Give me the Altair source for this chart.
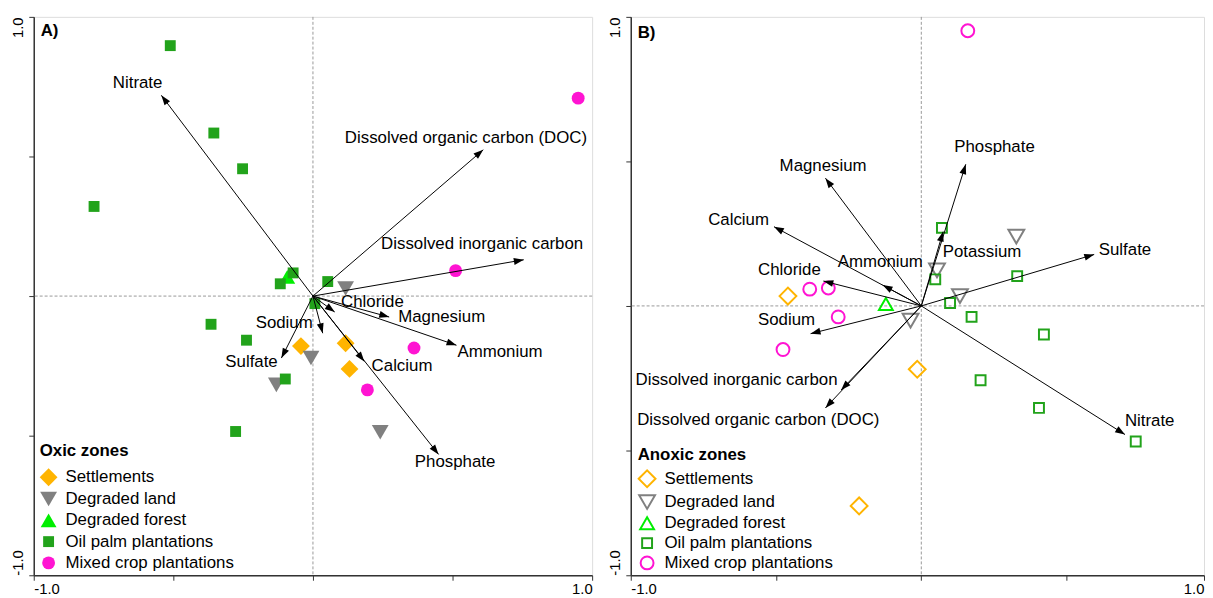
import altair as alt
import pandas as pd

FONT = "Liberation Sans"

# ---------------- shared categories ----------------
groups = ["Settlements", "Degraded land", "Degraded forest",
          "Oil palm plantations", "Mixed crop plantations"]
group_colors = ["#ffb400", "#808080", "#00ee00", "#22a31b", "#ff14d2"]
group_shapes = ["diamond", "triangle-down", "triangle-up", "square", "circle"]

# ---------------- Panel A: oxic zones ----------------
oxic_group = (["Degraded forest"]
              + ["Settlements"] * 3
              + ["Degraded land"] * 4
              + ["Oil palm plantations"] * 12
              + ["Mixed crop plantations"] * 4)
oxic_x = [-0.092,
          -0.043, 0.117, 0.131,
          0.117, -0.007, -0.131, 0.241,
          -0.511, -0.355, -0.252, -0.784, -0.071, -0.117, 0.053, 0.007,
          -0.365, -0.238, -0.099, -0.277,
          0.950, 0.511, 0.362, 0.195]
oxic_y = [0.069,
          -0.179, -0.169, -0.261,
          0.027, -0.222, -0.318, -0.488,
          0.897, 0.584, 0.456, 0.321, 0.083, 0.044, 0.052, -0.027,
          -0.101, -0.158, -0.297, -0.485,
          0.709, 0.091, -0.186, -0.336]

oxic_vars = ["Nitrate", "Dissolved organic carbon (DOC)", "Dissolved inorganic carbon",
             "Chloride", "Magnesium", "Ammonium", "Calcium", "Phosphate",
             "Sodium", "Sulfate"]
oxic_vx = [-0.543, 0.610, 0.755, 0.078, 0.273, 0.514, 0.184, 0.450, 0.035, -0.113]
oxic_vy = [0.719, 0.524, 0.130, -0.057, -0.075, -0.176, -0.234, -0.567, -0.133, -0.222]
oxic_lx = [-0.628, 0.548, 0.606, 0.213, 0.461, 0.670, 0.319, 0.509, -0.103, -0.220]
oxic_ly = [0.762, 0.567, 0.186, -0.023, -0.076, -0.200, -0.250, -0.595, -0.098, -0.236]

# ---------------- Panel B: anoxic zones ----------------
anoxic_group = (["Settlements"] * 3
                + ["Degraded land"] * 4
                + ["Degraded forest"]
                + ["Oil palm plantations"] * 9
                + ["Mixed crop plantations"] * 5)
anoxic_x = [-0.459, -0.014, -0.214,
            0.327, 0.054, 0.133, -0.037,
            -0.122,
            0.071, 0.048, 0.330, 0.099, 0.173, 0.422, 0.204, 0.405, 0.738,
            0.160, -0.384, -0.320, -0.286, -0.476]
anoxic_y = [0.034, -0.219, -0.692,
            0.240, 0.123, 0.034, -0.051,
            0.007,
            0.270, 0.092, 0.103, 0.010, -0.038, -0.099, -0.257, -0.353, -0.469,
            0.952, 0.058, 0.062, -0.038, -0.151]

anoxic_vars = ["Phosphate", "Potassium", "Sulfate", "Nitrate", "Magnesium", "Calcium",
               "Ammonium", "Chloride", "Sodium", "Dissolved inorganic carbon",
               "Dissolved organic carbon (DOC)"]
anoxic_vx = [0.153, 0.075, 0.595, 0.701, -0.330, -0.507, -0.133, -0.337, -0.381, -0.276, -0.330]
anoxic_vy = [0.490, 0.257, 0.178, -0.445, 0.442, 0.274, 0.072, 0.086, -0.096, -0.291, -0.353]
anoxic_lx = [0.252, 0.209, 0.701, 0.786, -0.338, -0.629, -0.141, -0.454, -0.464, -0.636, -0.561]
anoxic_ly = [0.548, 0.185, 0.192, -0.397, 0.483, 0.298, 0.151, 0.123, -0.048, -0.257, -0.394]

ARROW_HEAD = "M0,0L0.35,1L-0.35,1Z"


def panel(letter, legend_title, sites, arrows, xdom, ydom, xvals, yvals,
          width, height, filled, sizes, legend_xy, letter_xy, row_pad, title_pad):
    xlab = "datum.value < -0.9 ? '-1.0' : (datum.value > 0.9 ? '1.0' : '')"
    ylab = "datum.value < -0.9 ? '-1.0' : (datum.value > 0.9 ? '1.0' : '')"
    xaxis = alt.Axis(values=xvals, labelExpr=xlab, labelFlush=True, grid=False,
                     title=None, tickSize=5, labelPadding=1, labelFontSize=15,
                     labelFont=FONT, labelColor="#000", domainColor="#333",
                     domainWidth=1.5, tickColor="#333")
    yaxis = alt.Axis(values=yvals, labelExpr=ylab, grid=False, title=None,
                     tickSize=5, labelPadding=3, labelFontSize=15, labelFont=FONT,
                     labelColor="#000", labelAngle=270,
                     labelAlign={"expr": "datum.value < 0 ? 'left' : 'right'"},
                     labelBaseline="bottom",
                     domainColor="#333", domainWidth=1.5, tickColor="#333")
    xs = alt.Scale(domain=xdom, nice=False, zero=False)
    ys = alt.Scale(domain=ydom, nice=False, zero=False)

    base_arr = alt.Chart(arrows).transform_calculate(
        z="0",
        ang="(atan2(datum.vx, datum.vy) * 180 / PI + 360) % 360")

    zero_v = alt.Chart(pd.DataFrame({"z": [0]})).mark_rule(
        color="#999", strokeDash=[3, 2], strokeWidth=1).encode(
        x=alt.X("z:Q", scale=xs, axis=xaxis))
    zero_h = alt.Chart(pd.DataFrame({"z": [0]})).mark_rule(
        color="#999", strokeDash=[3, 2], strokeWidth=1).encode(
        y=alt.Y("z:Q", scale=ys, axis=yaxis))

    pts = alt.Chart(sites).mark_point(filled=filled, opacity=1,
                                      strokeWidth=2 if not filled else 1).encode(
        x=alt.X("x:Q", scale=xs, axis=xaxis),
        y=alt.Y("y:Q", scale=ys, axis=yaxis),
        color=alt.Color("group:N", title=legend_title,
                        scale=alt.Scale(domain=groups, range=group_colors),
                        legend=alt.Legend(orient="none", legendX=legend_xy[0],
                                          legendY=legend_xy[1], padding=0,
                                          titleFontSize=17, titleFontWeight="bold",
                                          titleFont=FONT, titleColor="#000",
                                          labelFontSize=17, labelFont=FONT,
                                          labelColor="#000", rowPadding=row_pad,
                                          labelLimit=0,
                                          titlePadding=title_pad, labelOffset=8,
                                          symbolStrokeWidth=2 if not filled else 0)),
        shape=alt.Shape("group:N", title=legend_title,
                        scale=alt.Scale(domain=groups, range=group_shapes)),
        size=alt.Size("group:N", title=legend_title,
                      scale=alt.Scale(type="ordinal", domain=groups, range=sizes)),
    )

    rules = base_arr.mark_rule(color="#000", strokeWidth=1).encode(
        x=alt.X("z:Q", scale=xs, axis=xaxis), y=alt.Y("z:Q", scale=ys, axis=yaxis),
        x2="vx:Q", y2="vy:Q")
    heads = base_arr.mark_point(shape=ARROW_HEAD, filled=True, color="#000",
                                opacity=1, size=400).encode(
        x=alt.X("vx:Q", scale=xs, axis=xaxis), y=alt.Y("vy:Q", scale=ys, axis=yaxis),
        angle=alt.Angle("ang:Q", scale=None))
    labels = alt.Chart(arrows).mark_text(fontSize=17, font=FONT, color="#000",
                                         align="center", baseline="middle").encode(
        x=alt.X("lx:Q", scale=xs, axis=xaxis), y=alt.Y("ly:Q", scale=ys, axis=yaxis),
        text="var:N")
    tag = alt.Chart(pd.DataFrame({"t": [letter]})).mark_text(
        fontSize=17, font=FONT, fontWeight="bold", align="left", baseline="middle",
        color="#000").encode(x=alt.value(letter_xy[0]), y=alt.value(letter_xy[1]),
                             text="t:N")

    return alt.layer(zero_v, zero_h, pts, rules, heads, labels, tag).properties(
        width=width, height=height)


sites_a = pd.DataFrame({"group": oxic_group, "x": oxic_x, "y": oxic_y})
arrows_a = pd.DataFrame({"var": oxic_vars, "vx": oxic_vx, "vy": oxic_vy,
                         "lx": oxic_lx, "ly": oxic_ly})
sites_b = pd.DataFrame({"group": anoxic_group, "x": anoxic_x, "y": anoxic_y})
arrows_b = pd.DataFrame({"var": anoxic_vars, "vx": anoxic_vx, "vy": anoxic_vy,
                         "lx": anoxic_lx, "ly": anoxic_ly})

XMAX_B = 0.973
YMIN_B = -0.932

chart_a = panel("A)", "Oxic zones", sites_a, arrows_a, [-1, 1], [-1, 1],
                [-1, -0.5, 0, 0.5, 1], [-1, -0.5, 0, 0.5, 1], 564, 564, True,
                [324, 289, 256, 121, 169], (6, 431), (7, 14), 3.5, 8)
chart_b = panel("B)", "Anoxic zones", sites_b, arrows_b, [-1, XMAX_B], [YMIN_B, 1],
                [-1, -0.5, 0, 0.5, XMAX_B], [YMIN_B, -0.5, 0, 0.5, 1], 579, 564, False,
                [289, 256, 196, 100, 169], (7, 435), (7, 16), 0, 5)

chart = alt.hconcat(chart_a, chart_b, spacing=14).resolve_scale(
    x="independent", y="independent", color="independent",
    shape="independent", size="independent").properties(
    padding={"left": 2, "top": 5, "right": 0, "bottom": 0}).configure_view(
    stroke="#333", strokeWidth=1.5).configure(font=FONT)

chart.save("out.html", embed_options={"renderer": "svg", "actions": False})
